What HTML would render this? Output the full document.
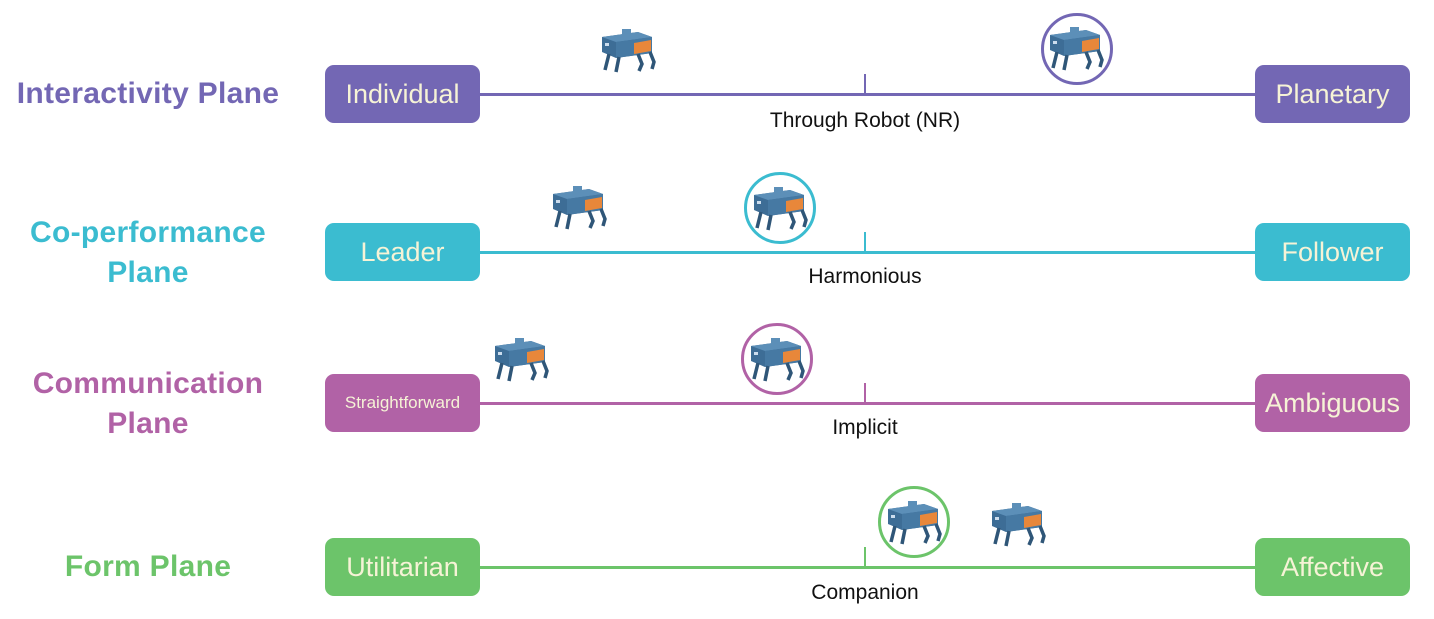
<!DOCTYPE html><html><head><style>
body{margin:0;width:1434px;height:619px;background:#fff;position:relative;overflow:hidden;font-family:"Liberation Sans",sans-serif}
.l{position:absolute;left:0;width:296px;text-align:center;font-weight:bold;font-size:30px;line-height:40px;letter-spacing:0.3px}
.b{position:absolute;width:155px;height:58px;border-radius:9px;color:#f6f3d6;font-size:27px;line-height:58px;text-align:center;white-space:nowrap}
.ln{position:absolute;left:480px;width:776px;height:3px}
.t{position:absolute;left:864px;width:2px;height:20px}
.c{position:absolute;width:400px;left:665px;text-align:center;font-size:21px;color:#111}
.r{position:absolute;width:56px;height:46px}
.o{position:absolute;width:66px;height:66px;border-radius:50%;border:3px solid}
</style></head><body>
<svg width="0" height="0" style="position:absolute"><defs><symbol id="rb" viewBox="0 0 56 46">
<path d="M2 10 L38 5 L52 10 L52 26 L16 31 L2 25Z" fill="#3d6d96"/>
<path d="M2 10 L38 5 L52 10 L16 15Z" fill="#5c8fb8"/>
<path d="M16 15 L52 10 L52 26 L16 31Z" fill="#4679a3"/>
<path d="M34 16 L51 13 L51 24 L34 27Z" fill="#e8873a"/>
<rect x="22" y="2" width="9" height="6" fill="#5c8fb8"/>
<rect x="5" y="16" width="4" height="3" fill="#cde"/>
<path d="M9 27 L5 43 M19 30 L16 45 M38 27 L42 37 L39 44 M50 25 L54 35 L52 42" stroke="#2f5678" stroke-width="3.5" fill="none"/>
</symbol></defs></svg>

<div class="l" style="top:74px;color:#7367b4">Interactivity Plane</div>
<div class="l" style="top:213px;color:#3bbcd0">Co-performance<br>Plane</div>
<div class="l" style="top:364px;color:#b162a6">Communication<br>Plane</div>
<div class="l" style="top:547px;color:#6cc46a">Form Plane</div>

<div class="ln" style="top:93px;background:#7367b4"></div><div class="t" style="top:74px;background:#7367b4"></div>
<div class="ln" style="top:251px;background:#3bbcd0"></div><div class="t" style="top:232px;background:#3bbcd0"></div>
<div class="ln" style="top:402px;background:#b162a6"></div><div class="t" style="top:383px;background:#b162a6"></div>
<div class="ln" style="top:566px;background:#6cc46a"></div><div class="t" style="top:547px;background:#6cc46a"></div>

<div class="b" style="left:325px;top:65px;background:#7367b4">Individual</div>
<div class="b" style="left:1255px;top:65px;background:#7367b4">Planetary</div>
<div class="b" style="left:325px;top:223px;background:#3bbcd0">Leader</div>
<div class="b" style="left:1255px;top:223px;background:#3bbcd0">Follower</div>
<div class="b" style="left:325px;top:374px;background:#b162a6;font-size:17px">Straightforward</div>
<div class="b" style="left:1255px;top:374px;background:#b162a6">Ambiguous</div>
<div class="b" style="left:325px;top:538px;background:#6cc46a">Utilitarian</div>
<div class="b" style="left:1255px;top:538px;background:#6cc46a">Affective</div>

<div class="c" style="top:109px">Through Robot (NR)</div>
<div class="c" style="top:265px">Harmonious</div>
<div class="c" style="top:416px">Implicit</div>
<div class="c" style="top:581px">Companion</div>

<svg class="r" style="left:600px;top:27px"><use href="#rb"/></svg>
<div class="o" style="left:1041px;top:13px;border-color:#7367b4"></div><svg class="r" style="left:1048px;top:25px"><use href="#rb"/></svg>
<svg class="r" style="left:551px;top:184px"><use href="#rb"/></svg>
<div class="o" style="left:744px;top:172px;border-color:#3bbcd0"></div><svg class="r" style="left:752px;top:185px"><use href="#rb"/></svg>
<svg class="r" style="left:493px;top:336px"><use href="#rb"/></svg>
<div class="o" style="left:741px;top:323px;border-color:#b162a6"></div><svg class="r" style="left:749px;top:336px"><use href="#rb"/></svg>
<div class="o" style="left:878px;top:486px;border-color:#6cc46a"></div><svg class="r" style="left:886px;top:499px"><use href="#rb"/></svg>
<svg class="r" style="left:990px;top:501px"><use href="#rb"/></svg>
</body></html>
